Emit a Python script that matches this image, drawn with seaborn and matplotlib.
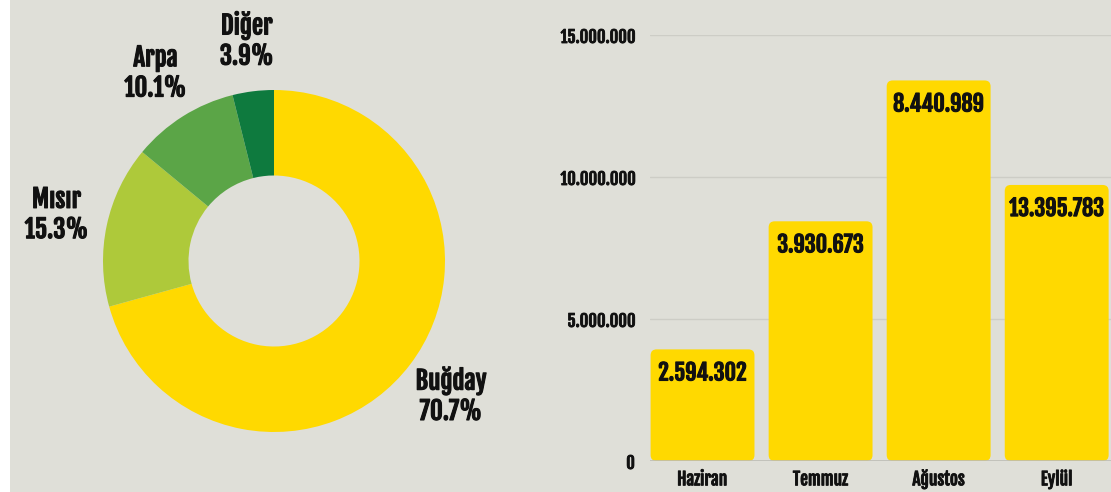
import matplotlib
matplotlib.use("Agg")
import matplotlib.pyplot as plt
import matplotlib.patheffects as pe
import seaborn as sns
import pandas as pd
from matplotlib import font_manager
from matplotlib.patches import FancyBboxPatch, Rectangle

# ---- data ----
crops = ["Buğday", "Mısır", "Arpa", "Diğer"]
crop_shares = [70.7, 15.3, 10.1, 3.9]
crop_colors = ["#FFD900", "#AEC93A", "#5BA547", "#0E7A3E"]

months = ["Haziran", "Temmuz", "Ağustos", "Eylül"]
bar_heights = [3_930_000, 8_440_000, 13_400_000, 9_720_000]
bar_labels = ["2.594.302", "3.930.673", "8.440.989", "13.395.783"]
y_ticks = [0, 5_000_000, 10_000_000, 15_000_000]
y_tick_labels = ["0", "5.000.000", "10.000.000", "15.000.000"]

BG = "#DFDFD8"
YELLOW = "#FFD900"
TXT = "#111111"

sns.set_theme(style="white")
names = {f.name for f in font_manager.fontManager.ttflist}
main = "DejaVu Sans"
for cand in ["Fjalla One", "Oswald", "Barlow Condensed", "Archivo Narrow"]:
    if cand in names:
        main = cand
        break
FAM = [main, "DejaVu Sans"]
plt.rcParams["font.family"] = FAM
BOLD = [pe.withStroke(linewidth=0.8, foreground=TXT)]

W, H = 1111, 492
fig = plt.figure(figsize=(W / 100, H / 100), dpi=100)
fig.patch.set_facecolor(BG)
fig.patches.append(Rectangle((0, 0), 10 / W, 1, transform=fig.transFigure,
                             facecolor="white", edgecolor="none", zorder=0))

# ---- donut ----
axp = fig.add_axes([10 / W, 0, 550 / W, 1])
axp.set_facecolor("none")
labels = [f"{c}\n{s}%" for c, s in zip(crops, crop_shares)]
wedges, texts = axp.pie(crop_shares, colors=crop_colors, startangle=90,
                        counterclock=False, labels=labels, labeldistance=1.3,
                        wedgeprops=dict(width=0.5, edgecolor="none"),
                        textprops=dict(fontsize=18, fontweight="bold", color=TXT,
                                       family=FAM, linespacing=1.15))
for t in texts:
    t.set_horizontalalignment("center")
    t.set_verticalalignment("center")
    t.set_path_effects(BOLD)
cx, cy, R = 274 - 10, 261, 171
axp.set_aspect("auto")
axp.set_xlim(-cx / R, (550 - cx) / R)
axp.set_ylim(-(H - cy) / R, cy / R)
axp.axis("off")

# ---- bars ----
axb = fig.add_axes([650 / W, 1 - 461 / H, (W - 650) / W, (461 - 35) / H])
axb.set_facecolor("none")
df = pd.DataFrame({"month": months, "value": bar_heights})
sns.barplot(data=df, x="month", y="value", color=YELLOW, width=0.88,
            saturation=1, ax=axb, zorder=3)
axb.set_xlim(-0.445, 3.46)
axb.set_ylim(0, 15_000_000)

px_x = (3.46 + 0.445) / (W - 650)
px_y = 15_000_000 / (461 - 35)
bars = [p for p in axb.patches if isinstance(p, Rectangle)]
for i, p in enumerate(bars):
    x0, w, h = p.get_x(), p.get_width(), p.get_height()
    rb = FancyBboxPatch((x0, 0), w, h,
                        boxstyle=f"round,pad=0,rounding_size={6 * px_x}",
                        mutation_aspect=px_y / px_x,
                        facecolor=YELLOW, edgecolor="none", zorder=3)
    p.set_visible(False)
    axb.add_patch(rb)
    axb.annotate(bar_labels[i], (x0 + w / 2, h), xytext=(0, -8),
                 textcoords="offset points", ha="center", va="top",
                 fontsize=16, fontweight="bold", color=TXT, family=FAM,
                 zorder=5, path_effects=BOLD)

axb.set_yticks(y_ticks)
axb.set_yticklabels(y_tick_labels)
axb.grid(axis="y", color="#CDCDC6", linewidth=1.0, zorder=0)
axb.grid(axis="x", visible=False)
for s in axb.spines.values():
    s.set_visible(False)
axb.axhline(0, color="#BDBDB6", linewidth=1.2, zorder=4)
axb.tick_params(axis="y", length=0, pad=11, labelsize=12, labelcolor=TXT)
axb.tick_params(axis="x", length=0, pad=6, labelsize=12.5, labelcolor=TXT)
for lab in axb.get_yticklabels() + axb.get_xticklabels():
    lab.set_fontweight("bold")
    lab.set_path_effects([pe.withStroke(linewidth=0.6, foreground=TXT)])
axb.set_xlabel("")
axb.set_ylabel("")

fig.savefig("out.png", dpi=100, facecolor=BG)
